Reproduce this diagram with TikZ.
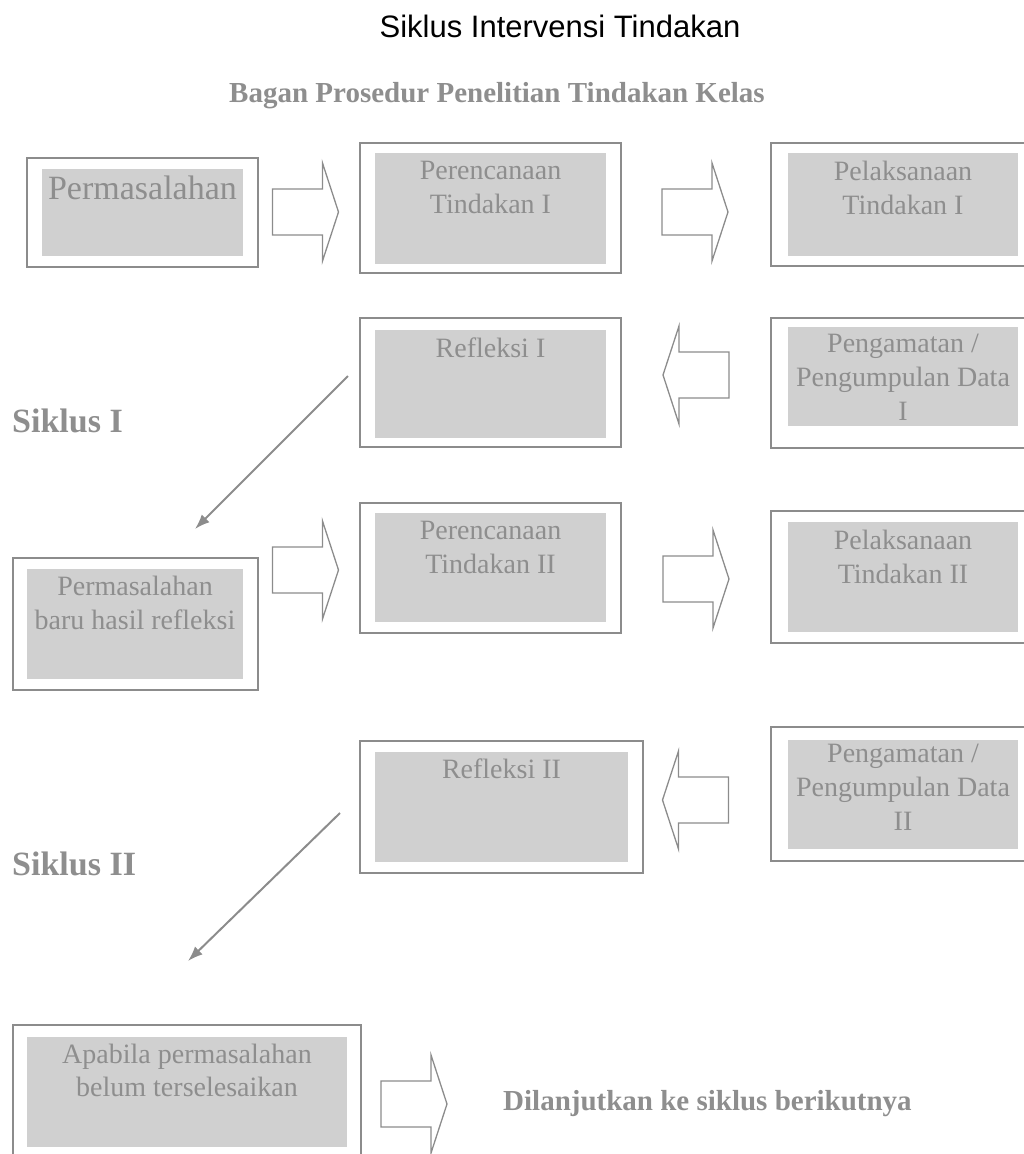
\documentclass[tikz,border=0pt]{standalone}
\usepackage{fontspec}
\setmainfont{Liberation Serif}
\newfontfamily\headfont{Liberation Sans}
\usetikzlibrary{arrows.meta}
\definecolor{framegray}{HTML}{8C8C8C}
\definecolor{panelgray}{HTML}{D0D0D0}
\definecolor{textgray}{HTML}{8E8E8E}
\tikzset{
  frame/.style 2 args={draw=framegray,line width=1.5pt,fill=white,inner sep=0pt,minimum width=#1pt,minimum height=#2pt},
  panel/.style 2 args={fill=panelgray,inner sep=0pt,minimum width=#1pt,minimum height=#2pt},
  boxtext/.style={text=textgray,align=center,inner sep=0pt,anchor=north,font=\fontsize{28}{34}\selectfont},
  cyclelabel/.style={text=textgray,inner sep=0pt,anchor=base west,font=\bfseries\fontsize{34}{38}\selectfont},
  flowline/.style={draw=framegray,line width=2pt,-{Latex[length=15pt,width=11pt]}},
  pics/blockarrow/.style={code={
    \draw[framegray,line width=1.3pt,fill=white,line join=miter]
      (-33,-23) -- (17,-23) -- (17,-49) -- (33,0) -- (17,49) -- (17,23) -- (-33,23) -- cycle;}}
}
\begin{document}
\begin{tikzpicture}[x=1pt,y=-1pt]
       \useasboundingbox (0,0) rectangle (1023,1154);
       % headings
       \node[inner sep=0pt,anchor=base,font=\headfont\fontsize{31}{36}\selectfont] (title) at (560,37) {Siklus Intervensi Tindakan};
       \node[inner sep=0pt,anchor=base,text=textgray,font=\bfseries\fontsize{29}{34}\selectfont] (bagan) at (497,102) {Bagan Prosedur Penelitian Tindakan Kelas};
       % row 1
       \node[frame={231}{109}] (fperm1) at (142.5,212.5) {};\node[panel={201}{87}] (perm1) at (142.5,212.5) {};
       \node[boxtext,font=\fontsize{34}{40}\selectfont] (tperm1) at (142.5,176) {Permasalahan};
       \node[frame={261}{130}] (fren1) at (490.5,208) {};\node[panel={231}{111}] (ren1) at (490.5,208.5) {};
       \node[boxtext] (tren1) at (490.5,161) {Perencanaan\\Tindakan I};
       \node[frame={264}{123}] (flak1) at (903,204.5) {};\node[panel={230}{103}] (lak1) at (903,204.5) {};
       \node[boxtext] (tlak1) at (903,161) {Pelaksanaan\\Tindakan I};
       \pic at (305.5,212) {blockarrow};\pic at (695,212) {blockarrow};
       % row 2
       \node[frame={261}{129}] (fref1) at (490.5,382.5) {};\node[panel={231}{108}] (ref1) at (490.5,384) {};
       \node[boxtext] (tref1) at (490.5,338) {Refleksi I};
       \node[frame={264}{130}] (fobs1) at (903,383) {};\node[panel={230}{99}] (obs1) at (903,376.5) {};
       \node[boxtext] (tobs1) at (903,334) {Pengamatan /\\Pengumpulan Data\\I};
       \pic[rotate=180] at (696,375) {blockarrow};
       \node[cyclelabel] (siklus1) at (12,432) {Siklus I};
       \coordinate (ref1out) at (348,376);\coordinate (perm2in) at (195,529);
       \draw[flowline] (ref1out) -- (perm2in);
       % row 3
       \node[frame={245}{132}] (fperm2) at (135.5,624) {};\node[panel={216}{110}] (perm2) at (135,624) {};
       \node[boxtext] (tperm2) at (135,576) {Permasalahan\\baru hasil refleksi};
       \node[frame={261}{130}] (fren2) at (490.5,568) {};\node[panel={231}{109}] (ren2) at (490.5,567.5) {};
       \node[boxtext] (tren2) at (490.5,521) {Perencanaan\\Tindakan II};
       \node[frame={264}{132}] (flak2) at (903,577) {};\node[panel={230}{110}] (lak2) at (903,577) {};
       \node[boxtext] (tlak2) at (903,530) {Pelaksanaan\\Tindakan II};
       \pic at (305.5,570) {blockarrow};\pic at (696,579) {blockarrow};
       % row 4
       \node[frame={283}{132}] (fref2) at (501.5,807) {};\node[panel={253}{110}] (ref2) at (501.5,807) {};
       \node[boxtext] (tref2) at (501.5,759) {Refleksi II};
       \node[frame={264}{134}] (fobs2) at (903,794) {};\node[panel={230}{109}] (obs2) at (903,794.5) {};
       \node[boxtext] (tobs2) at (903,744) {Pengamatan /\\Pengumpulan Data\\II};
       \pic[rotate=180] at (695.5,800) {blockarrow};
       \node[cyclelabel] (siklus2) at (12,875) {Siklus II};
       \coordinate (ref2out) at (340,813);\coordinate (lanjutin) at (188,961);
       \draw[flowline] (ref2out) -- (lanjutin);
       % row 5
       \node[frame={348}{140}] (flanjut) at (187,1095) {};\node[panel={320}{110}] (lanjut) at (187,1092) {};
       \node[boxtext,font=\fontsize{28}{33}\selectfont] (tlanjut) at (187,1044) {Apabila permasalahan\\belum terselesaikan};
       \pic at (414,1104) {blockarrow};
       \node[inner sep=0pt,anchor=base west,text=textgray,font=\bfseries\fontsize{29}{33}\selectfont] (next) at (503,1110) {Dilanjutkan ke siklus berikutnya};
    \end{tikzpicture}
\end{document}
